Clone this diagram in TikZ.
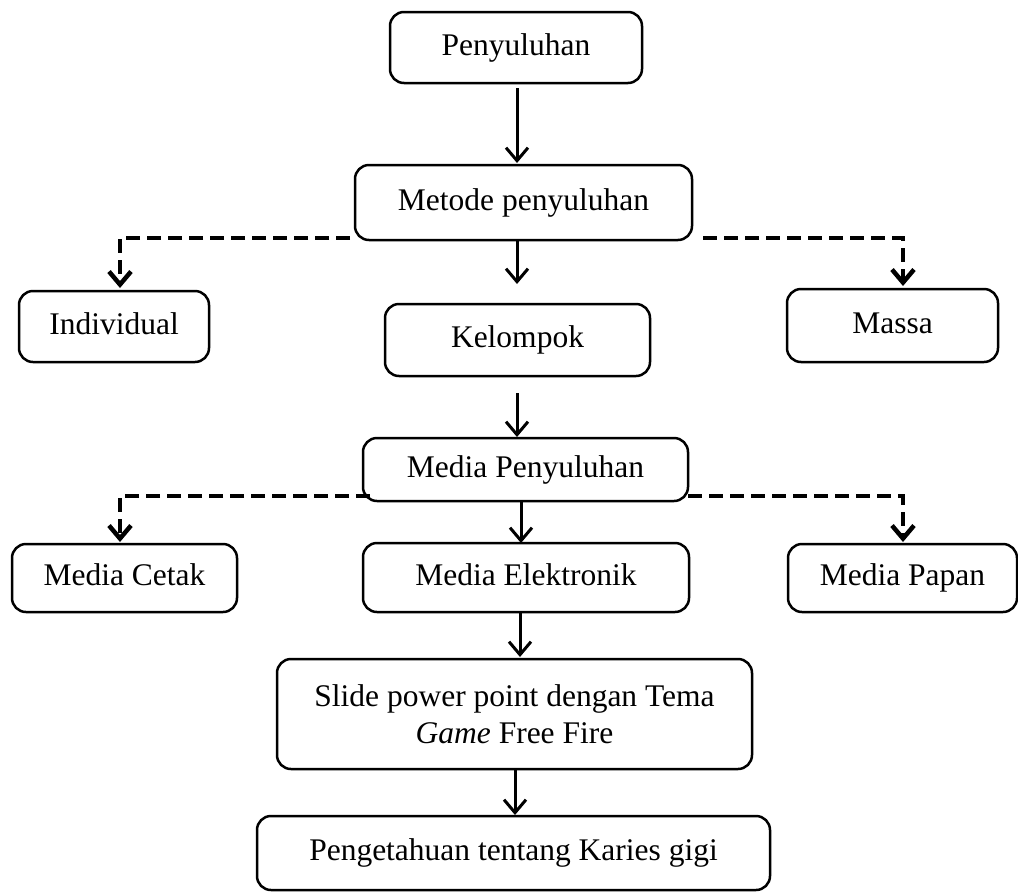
\documentclass[tikz,border=0pt]{standalone}
\usepackage{fontspec}
\setmainfont{Liberation Serif}
\usetikzlibrary{arrows.meta}
\begin{document}
\begin{tikzpicture}[x=1pt,y=-1pt,
  box/.style={draw, line width=2.5pt, rounded corners=14pt, inner sep=0pt, align=center,
    font=\fontsize{31.5}{37}\selectfont},
  onebox/.style={box, text height=22pt, text depth=7pt},
  arr/.style={line width=3pt, -{Straight Barb[length=13pt,width=22pt]}},
  darr/.style={line width=4.5pt, dash pattern=on 14pt off 7pt, -{Straight Barb[length=13pt,width=22pt]}}]
\useasboundingbox (0,0) rectangle (1018,892);
\node[onebox, minimum width=252pt, minimum height=71pt] (pen) at (516,47.5) {Penyuluhan};
\node[onebox, minimum width=337pt, minimum height=75pt] (met) at (523.5,202.5) {Metode penyuluhan};
\node[onebox, minimum width=190pt, minimum height=71pt] (ind) at (114,326.5) {Individual};
\node[onebox, minimum width=265pt, minimum height=72pt] (kel) at (517.5,340) {Kelompok};
\node[onebox, minimum width=211pt, minimum height=73pt] (mas) at (892.5,325.5) {Massa};
\node[onebox, minimum width=325pt, minimum height=63pt] (mp) at (525.5,469.5) {Media Penyuluhan};
\node[onebox, minimum width=225pt, minimum height=68pt] (mc) at (124.5,578) {Media Cetak};
\node[onebox, minimum width=326pt, minimum height=69pt] (me) at (526,577.5) {Media Elektronik};
\node[onebox, minimum width=229pt, minimum height=68pt] (mpa) at (902.5,578) {Media Papan};
\node[box, minimum width=475pt, minimum height=110pt] (sl) at (514.5,714) {Slide power point dengan Tema\\\textit{Game} Free Fire};
\node[onebox, minimum width=513pt, minimum height=74pt] (pg) at (513.5,853) {Pengetahuan tentang Karies gigi};
% free ends
\coordinate (a1s) at (517,88);   \coordinate (a1e) at (517,163);
\coordinate (a2s) at (517,241);  \coordinate (a2e) at (517,284);
\coordinate (mL) at (350,238);   \coordinate (iT) at (120,288);
\coordinate (mR) at (703,238);   \coordinate (sT) at (903,286);
\coordinate (a3s) at (517,393);  \coordinate (a3e) at (517,437);
\coordinate (pL) at (370,496);   \coordinate (cT) at (120,542);
\coordinate (pR) at (688,496);   \coordinate (pT) at (903,542);
\coordinate (a4s) at (521,501);  \coordinate (a4e) at (521,543);
\coordinate (a5s) at (520,612);  \coordinate (a5e) at (520,657);
\coordinate (a6s) at (515,769);  \coordinate (a6e) at (515,815);
\draw[arr] (a1s) -- (a1e);
\draw[arr] (a2s) -- (a2e);
\draw[darr] (mL) -| (iT);
\draw[darr] (mR) -| (sT);
\draw[arr] (a3s) -- (a3e);
\draw[darr] (pL) -| (cT);
\draw[darr] (pR) -| (pT);
\draw[arr] (a4s) -- (a4e);
\draw[arr] (a5s) -- (a5e);
\draw[arr] (a6s) -- (a6e);
\end{tikzpicture}
\end{document}
